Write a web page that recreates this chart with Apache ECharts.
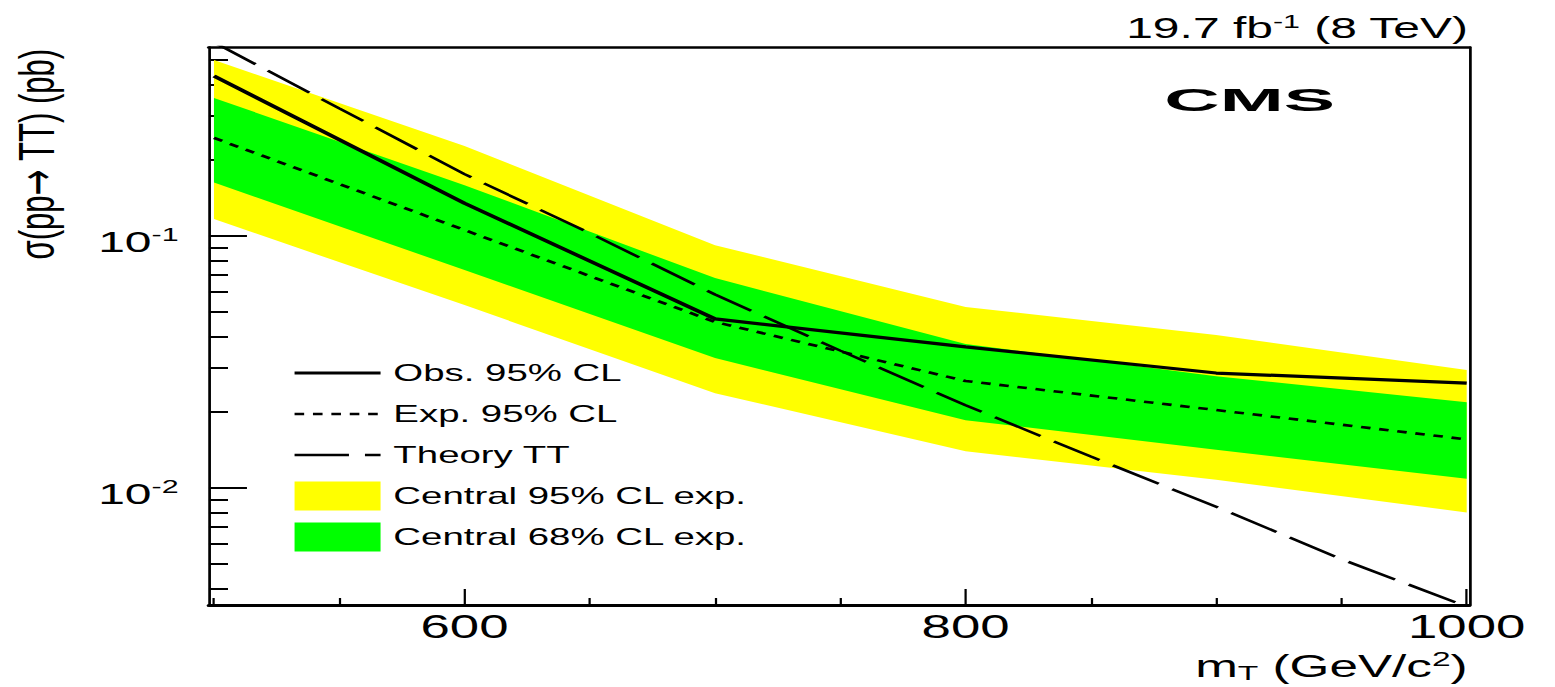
<!DOCTYPE html>
<html>
<head>
<meta charset="utf-8">
<script src="https://cdn.jsdelivr.net/npm/echarts@6/dist/echarts.min.js"></script>
<style>
html,body{margin:0;padding:0;background:#fff;overflow:hidden;}
#chart{width:971.875px;height:687px;transform:scaleX(1.6);transform-origin:0 0;}
</style>
</head>
<body>
<div id="chart"></div>
<script>
// ---- data ----
const masses      = [500, 600, 700, 800, 900, 1000];
const observed    = [0.431, 0.135, 0.0469, 0.0363, 0.0286, 0.0261];
const expected    = [0.245, 0.1056, 0.0456, 0.0266, 0.0204, 0.0156];
const band68Low   = [0.163, 0.0733, 0.0328, 0.0186, 0.0142, 0.0109];
const band68High  = [0.353, 0.159, 0.0681, 0.0373, 0.0278, 0.0219];
const band95Low   = [0.1167, 0.0532, 0.0238, 0.0140, 0.0108, 0.0080];
const band95High  = [0.499, 0.2275, 0.092, 0.0523, 0.0405, 0.0294];
const theoryMasses = [500, 550, 600, 650, 700, 750, 800, 850, 900, 950, 1000];
const theoryXsec   = [0.587, 0.321, 0.176, 0.1026, 0.0586, 0.0351, 0.0213, 0.01334, 0.00843, 0.00522, 0.00339];
const xMajorTicks = [600, 800, 1000];
const xMinorTicks = [500, 550, 650, 700, 750, 850, 900, 950];
const yMajorTicks = [0.01, 0.1];
const yMinorTicks = [0.004, 0.005, 0.006, 0.007, 0.008, 0.009,
                     0.02, 0.03, 0.04, 0.05, 0.06, 0.07, 0.08, 0.09,
                     0.2, 0.3, 0.4, 0.5];
const legendNames = ['Obs. 95% CL', 'Exp. 95% CL', 'Theory TT', 'Central 95% CL exp.', 'Central 68% CL exp.'];

// ---- layout ----
const FONT = '"Liberation Sans", Arial, Helvetica, sans-serif';
const X_MIN = 498, X_MAX = 1001;
const Y_MIN = 0.003436, Y_MAX = 0.5623;
const YELLOW = '#ffff00', GREEN = '#00ff00';

const pairs = (xs, ys) => xs.map((x, i) => [x, ys[i]]);

function bandSeries(name, lo, hi, color, z) {
  return {
    type: 'custom', name: name, coordinateSystem: 'cartesian2d',
    xAxisIndex: 0, yAxisIndex: 0,
    data: masses.map((m, i) => [m, lo[i], hi[i]]),
    encode: {x: 0, y: [1, 2]},
    itemStyle: {color: color},
    silent: true, z: z,
    renderItem: function (params, api) {
      if (params.dataIndex !== 0) return null;
      const pts = [];
      for (let i = 0; i < masses.length; i++) pts.push(api.coord([masses[i], hi[i]]));
      for (let i = masses.length - 1; i >= 0; i--) pts.push(api.coord([masses[i], lo[i]]));
      return {type: 'polygon', shape: {points: pts}, style: {fill: color}};
    }
  };
}

const chart = echarts.init(document.getElementById('chart'), null, {renderer: 'svg'});

const baseX = {type: 'value', min: X_MIN, max: X_MAX, splitLine: {show: false}};
const baseY = {type: 'log', logBase: 10, min: Y_MIN, max: Y_MAX, splitLine: {show: false}};

const option = {
  animation: false,
  backgroundColor: '#fff',
  grid: {left: 130.6, right: 53.75, top: 47, bottom: 82, containLabel: false, outerBoundsMode: 'none'},
  xAxis: [
    Object.assign({}, baseX, {
      position: 'bottom',
      axisLine: {show: true, onZero: false, lineStyle: {color: '#000', width: 3}},
      axisTick: {show: true, inside: true, length: 16, customValues: xMajorTicks, lineStyle: {color: '#000', width: 1.4}},
      axisLabel: {show: true, customValues: xMajorTicks, margin: 8, color: '#000', fontSize: 33, lineHeight: 26,
                  fontFamily: FONT, formatter: v => String(v)},
      name: '{a|m}{sub|T}{a| (GeV/c}{sup|2}{a|)}',
      nameLocation: 'end',
      nameGap: -1,
      nameMoveOverlap: false,
      nameTextStyle: {
        align: 'right', verticalAlign: 'top', padding: [44, 0, 0, 0],
        rich: {
          a: {fontSize: 32, fontFamily: FONT, color: '#000', lineHeight: 34},
          sub: {fontSize: 21, fontFamily: FONT, color: '#000', lineHeight: 20, padding: [14, 0, 0, 0]},
          sup: {fontSize: 21, fontFamily: FONT, color: '#000', lineHeight: 20, padding: [0, 0, 14, 0]}
        }
      }
    }),
    Object.assign({}, baseX, {
      position: 'bottom',
      axisLine: {show: false, onZero: false},
      axisTick: {show: true, inside: true, length: 7, customValues: xMinorTicks, lineStyle: {color: '#000', width: 1.4}},
      axisLabel: {show: false}
    }),
    Object.assign({}, baseX, {
      position: 'top',
      axisLine: {show: true, onZero: false, lineStyle: {color: '#000', width: 2.5}},
      axisTick: {show: false},
      axisLabel: {show: false}
    })
  ],
  yAxis: [
    Object.assign({}, baseY, {
      position: 'left',
      axisLine: {show: true, onZero: false, lineStyle: {color: '#000', width: 1.7}},
      axisTick: {show: true, inside: true, length: 23.75, customValues: yMajorTicks, lineStyle: {color: '#000', width: 2}},
      axisLabel: {
        show: true, customValues: yMajorTicks, margin: 19, padding: [10, 0, 0, 0],
        formatter: v => '{b|10}{s|' + Math.round(Math.log10(v)) + '}',
        rich: {
          b: {fontSize: 30, fontFamily: FONT, color: '#000', lineHeight: 32},
          s: {fontSize: 19, fontFamily: FONT, color: '#000', lineHeight: 19, padding: [0, 0, 13, 0]}
        }
      },
      name: '{a|σ(pp}{r|→}{a| TT) (pb)}',
      nameLocation: 'end',
      nameRotate: 90,
      nameGap: -2,
      nameMoveOverlap: false,
      nameTextStyle: {
        align: 'right', verticalAlign: 'bottom', padding: [0, 0, 92, 0],
        rich: {
          a: {fontSize: 31, fontFamily: FONT, color: '#000', lineHeight: 31},
          r: {fontSize: 31, fontFamily: '"DejaVu Sans", sans-serif', color: '#000', lineHeight: 31}
        }
      }
    }),
    Object.assign({}, baseY, {
      position: 'left',
      axisLine: {show: false, onZero: false},
      axisTick: {show: true, inside: true, length: 11.9, customValues: yMinorTicks, lineStyle: {color: '#000', width: 2}},
      axisLabel: {show: false}
    }),
    Object.assign({}, baseY, {
      position: 'right',
      axisLine: {show: true, onZero: false, lineStyle: {color: '#000', width: 1.7}},
      axisTick: {show: false},
      axisLabel: {show: false}
    })
  ],
  legend: {
    show: true,
    orient: 'vertical',
    left: 182.5,
    top: 358.5,
    padding: 0,
    itemWidth: 53.75,
    itemHeight: 29,
    itemGap: 12,
    selectedMode: false,
    textStyle: {fontSize: 24, fontFamily: FONT, color: '#000', lineHeight: 29, padding: [0, 0, 0, 3]},
    data: [
      {name: legendNames[0], itemStyle: {opacity: 0}, lineStyle: {color: '#000', width: 3.2, type: 'solid'}},
      {name: legendNames[1], itemStyle: {opacity: 0}, lineStyle: {color: '#000', width: 2.6, type: [6, 5.5]}},
      {name: legendNames[2], itemStyle: {opacity: 0}, lineStyle: {color: '#000', width: 2.4, type: [34, 10]}},
      {name: legendNames[3], icon: 'rect', itemStyle: {color: YELLOW, borderWidth: 0}},
      {name: legendNames[4], icon: 'rect', itemStyle: {color: GREEN, borderWidth: 0}}
    ]
  },
  graphic: [
    {
      type: 'text', x: 917.5, y: 28, silent: true,
      style: {
        text: '{a|19.7 fb}{s|-1}{a| (8 TeV)}',
        align: 'right', verticalAlign: 'middle', textAlign: 'right', textVerticalAlign: 'middle',
        rich: {
          a: {fontSize: 30, fontFamily: FONT, fill: '#000', color: '#000', lineHeight: 32},
          s: {fontSize: 19, fontFamily: FONT, fill: '#000', color: '#000', lineHeight: 19, padding: [0, 0, 13, 0]}
        }
      }
    },
    {
      type: 'text', x: 781, y: 100, scaleX: 1.5, silent: true,
      style: {
        text: 'CMS', fontSize: 32, fontWeight: 'bold', fontFamily: FONT, fill: '#000',
        align: 'center', verticalAlign: 'middle', textAlign: 'center', textVerticalAlign: 'middle'
      }
    }
  ],
  series: [
    bandSeries(legendNames[3], band95Low, band95High, YELLOW, 1),
    bandSeries(legendNames[4], band68Low, band68High, GREEN, 2),
    {
      type: 'line', name: legendNames[1], data: pairs(masses, expected),
      symbol: 'none', silent: true, itemStyle: {color: '#000'},
      lineStyle: {color: '#000', width: 2.6, type: [6, 5.5]}, z: 3
    },
    {
      type: 'line', name: legendNames[2], data: pairs(theoryMasses, theoryXsec),
      symbol: 'none', silent: true, itemStyle: {color: '#000'},
      lineStyle: {color: '#000', width: 2.4, type: [34, 10]}, z: 3
    },
    {
      type: 'line', name: legendNames[0], data: pairs(masses, observed),
      symbol: 'none', silent: true, itemStyle: {color: '#000'},
      lineStyle: {color: '#000', width: 3.2, type: 'solid'}, z: 4
    }
  ]
};
chart.setOption(option);
</script>
</body>
</html>
